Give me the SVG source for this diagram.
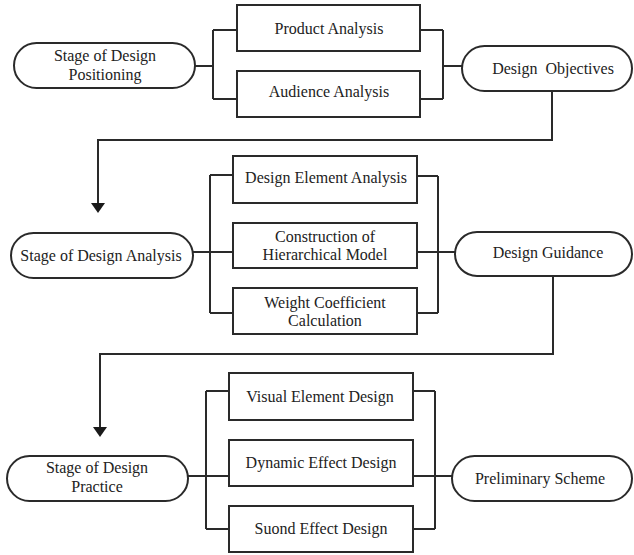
<svg xmlns="http://www.w3.org/2000/svg" width="634" height="555" viewBox="0 0 634 555">
<style>
.box{fill:#fff;stroke:#2a2a2a;stroke-width:2}
.ln{fill:none;stroke:#2a2a2a;stroke-width:2}
.t text{font-size:16px;fill:#222;text-anchor:middle}
</style>
<rect width="634" height="555" fill="#fff"/>
<g id="connectors">
<path class="ln" d="M195,66 H213 M213,30 V99 M213,30 H237 M213,99 H237"/>
<path class="ln" d="M420,30 H443 M420,99 H443 M443,30 V99 M443,66 H462"/>
<path class="ln" d="M552,91 V140 H98 V203"/>
<path d="M91,203 L105,203 L98,213 Z" fill="#1a1a1a"/>
<path class="ln" d="M193,252 H233 M210,175 V313 M210,175 H233 M210,313 H233"/>
<path class="ln" d="M417,176 H438 M417,313 H438 M438,176 V313 M417,252 H455"/>
<path class="ln" d="M553,276 V354 H100 V427"/>
<path d="M93,427 L107,427 L100,437 Z" fill="#1a1a1a"/>
<path class="ln" d="M188,476 H229 M206,391 V529 M206,391 H229 M206,529 H229"/>
<path class="ln" d="M413,391 H435 M413,529 H435 M435,391 V529 M413,476 H452"/>
</g>
<g class="t" font-family="'Liberation Serif', 'Times New Roman', Times, serif">
<g id="n-positioning">
<rect class="box" x="14" y="43" width="181" height="45" rx="22.5"/>
<text x="105" y="61">Stage of Design</text>
<text x="105" y="80">Positioning</text>
</g>
<g id="n-product">
<rect class="box" x="237" y="5" width="183" height="46"/>
<text x="329" y="34">Product Analysis</text>
</g>
<g id="n-audience">
<rect class="box" x="237" y="71" width="183" height="46"/>
<text x="329" y="97">Audience Analysis</text>
</g>
<g id="n-objectives">
<rect class="box" x="462" y="46" width="170" height="45" rx="22.5"/>
<text x="553" y="74" xml:space="preserve">Design  Objectives</text>
</g>
<g id="n-analysis">
<rect class="box" x="11" y="233" width="182" height="45" rx="22.5"/>
<text x="101" y="261">Stage of Design Analysis</text>
</g>
<g id="n-element">
<rect class="box" x="233" y="156" width="184" height="47"/>
<text x="326" y="183">Design Element Analysis</text>
</g>
<g id="n-construction">
<rect class="box" x="233" y="223" width="184" height="45"/>
<text x="325" y="242">Construction of</text>
<text x="325" y="260">Hierarchical Model</text>
</g>
<g id="n-weight">
<rect class="box" x="233" y="288" width="184" height="46"/>
<text x="325" y="308">Weight Coefficient</text>
<text x="325" y="326">Calculation</text>
</g>
<g id="n-guidance">
<rect class="box" x="455" y="232" width="177" height="44" rx="22"/>
<text x="548" y="258">Design Guidance</text>
</g>
<g id="n-practice">
<rect class="box" x="7" y="456" width="181" height="45" rx="22.5"/>
<text x="97" y="473">Stage of Design</text>
<text x="97" y="492">Practice</text>
</g>
<g id="n-visual">
<rect class="box" x="229" y="373" width="184" height="47"/>
<text x="320" y="402">Visual Element Design</text>
</g>
<g id="n-dynamic">
<rect class="box" x="229" y="440" width="184" height="46"/>
<text x="321" y="468">Dynamic Effect Design</text>
</g>
<g id="n-sound">
<rect class="box" x="229" y="506" width="184" height="46"/>
<text x="321" y="534">Suond Effect Design</text>
</g>
<g id="n-scheme">
<rect class="box" x="452" y="456" width="180" height="45" rx="22.5"/>
<text x="540" y="484">Preliminary Scheme</text>
</g>
</g>
</svg>
